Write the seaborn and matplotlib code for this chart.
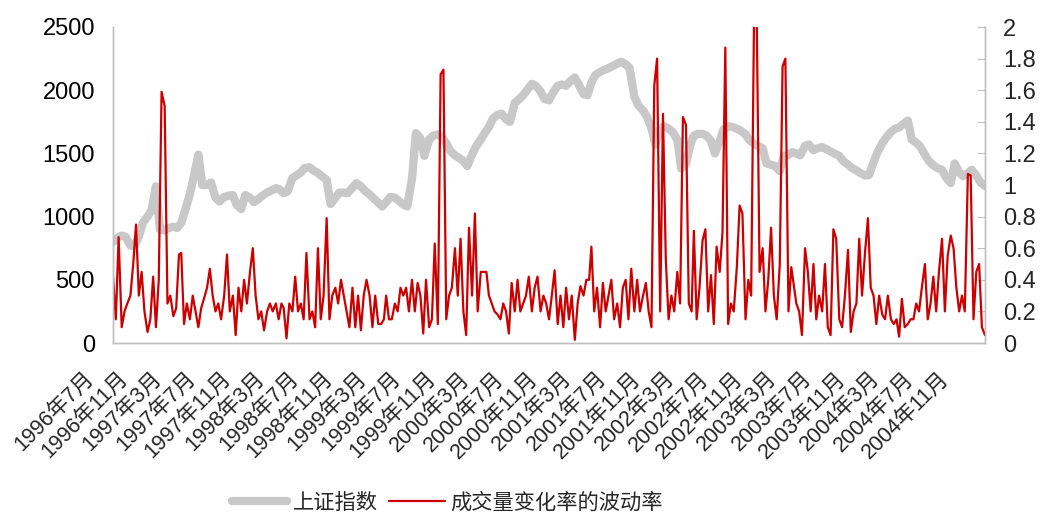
import matplotlib
matplotlib.use("Agg")
import matplotlib.pyplot as plt
import matplotlib.transforms as mtransforms
from matplotlib.ticker import FuncFormatter
import seaborn as sns
import pandas as pd

# ---------------- data ----------------
# 上证指数 (semi-monthly readings, 1996-07 .. 2005-01)
index_dates = pd.date_range("1996-07-01", periods=205, freq="SMS")
index_values = [
    800, 830, 850, 840, 770, 770, 840, 950, 1000, 1050, 1240, 900, 890, 910, 920, 910,
    950, 1050, 1180, 1320, 1490, 1250, 1250, 1270, 1150, 1120, 1155, 1165, 1170, 1090,
    1060, 1170, 1150, 1115, 1140, 1165, 1190, 1205, 1225, 1215, 1185, 1200, 1305, 1325,
    1350, 1385, 1390, 1365, 1345, 1320, 1290, 1100, 1150, 1190, 1190, 1185, 1230, 1265,
    1240, 1205, 1175, 1145, 1110, 1080, 1115, 1155, 1150, 1125, 1095, 1080, 1300, 1660,
    1620, 1480, 1610, 1640, 1650, 1630, 1580, 1520, 1485, 1465, 1440, 1400, 1490, 1555,
    1610, 1660, 1710, 1775, 1805, 1815, 1770, 1750, 1900, 1925, 1960, 2000, 2050, 2035,
    1990, 1930, 1920, 1980, 2035, 2045, 2035, 2070, 2100, 2045, 1970, 1960, 2060, 2120,
    2145, 2160, 2175, 2190, 2210, 2225, 2205, 2175, 1950, 1880, 1840, 1790, 1700, 1570,
    1690, 1715, 1695, 1670, 1610, 1380, 1420, 1560, 1640, 1655, 1655, 1640, 1600, 1500,
    1600, 1690, 1715, 1710, 1695, 1680, 1650, 1605, 1580, 1560, 1540, 1420, 1410, 1400,
    1360, 1480, 1490, 1510, 1500, 1485, 1560, 1570, 1525, 1540, 1550, 1535, 1515, 1500,
    1480, 1440, 1410, 1385, 1365, 1345, 1325, 1330, 1430, 1510, 1580, 1625, 1670, 1695,
    1705, 1730, 1760, 1610, 1585, 1555, 1490, 1440, 1405, 1385, 1370, 1310, 1265, 1420,
    1350, 1320, 1345, 1370, 1325, 1275, 1240,
]

# 成交量变化率的波动率 (readings on the 1st, 11th and 21st of each month)
vol_dates = [pd.Timestamp(1996 + (6 + k // 3) // 12, (6 + k // 3) % 12 + 1, 1 + 10 * (k % 3))
             for k in range(307)]
vol_values = [
    .42, .15, .67, .10, .20, .25, .30, .50, .75, .30, .45, .20, .07, .15, .42, .10,
    .40, 1.59, 1.50, .25, .30, .17, .22, .56, .57, .12, .25, .15, .30, .20, .10, .22,
    .28, .35, .47, .30, .20, .25, .15, .30, .56, .20, .30, .05, .35, .20, .40, .25,
    .45, .60, .30, .15, .20, .08, .20, .25, .20, .25, .15, .25, .22, .03, .25, .20,
    .42, .20, .25, .15, .57, .15, .20, .10, .60, .15, .30, .79, .15, .30, .35, .25,
    .40, .30, .20, .10, .35, .10, .30, .08, .30, .40, .30, .10, .30, .12, .12, .15,
    .30, .15, .15, .25, .20, .35, .30, .35, .20, .40, .20, .38, .30, .06, .40, .10,
    .15, .63, .12, 1.70, 1.73, .15, .30, .35, .60, .30, .66, .20, .05, .73, .30, .82,
    .20, .45, .45, .45, .30, .25, .20, .18, .15, .25, .20, .06, .38, .20, .40, .20,
    .25, .30, .42, .20, .35, .42, .20, .30, .25, .15, .30, .46, .12, .30, .10, .35,
    .15, .30, .02, .25, .36, .30, .40, .40, .61, .20, .35, .10, .38, .20, .30, .40,
    .15, .25, .10, .35, .40, .15, .47, .20, .40, .20, .30, .38, .20, .10, 1.63, 1.80,
    .20, 1.45, .53, .15, .30, .20, .45, .25, 1.43, 1.38, .25, .20, .71, .15, .35, .65,
    .72, .20, .43, .12, .61, .45, .70, 1.87, .12, .25, .20, .48, .87, .82, .15, .40,
    .30, 2.00, 2.05, .45, .60, .20, .40, .73, .30, .15, .50, 1.75, 1.80, .20, .48, .35,
    .25, .20, .05, .60, .45, .20, .50, .15, .30, .20, .50, .10, .05, .72, .66, .15,
    .10, .30, .59, .07, .20, .25, .66, .30, .58, .79, .35, .30, .12, .30, .18, .15,
    .30, .15, .12, .15, .04, .28, .10, .12, .15, .15, .25, .20, .35, .50, .15, .25,
    .42, .20, .45, .66, .20, .55, .68, .60, .35, .20, .30, .20, 1.07, 1.06, .15, .45,
    .50, .10, .05,
]

tick_dates = pd.date_range("1996-07-01", "2004-11-01", freq="4MS")
tick_labels = [f"{d.year}年{d.month}月" for d in tick_dates]
left_ticks = [0, 500, 1000, 1500, 2000, 2500]
right_ticks = [0, 0.2, 0.4, 0.6, 0.8, 1, 1.2, 1.4, 1.6, 1.8, 2]
series_names = ["上证指数", "成交量变化率的波动率"]

# ---------------- style ----------------
sns.set_style("white")
plt.rcParams["font.family"] = ["Liberation Sans", "Noto Sans CJK SC", "DejaVu Sans"]

GRAY = "#C8C8C8"
RED = "#CC0000"
SPINE = "#BFBFBF"

fig = plt.figure(figsize=(10.5, 5.22), dpi=100)
ax = fig.add_axes([113 / 1050, 1 - 343 / 522, (985 - 113) / 1050, (343 - 27) / 522])
ax2 = ax.twinx()

df_idx = pd.DataFrame({"date": index_dates, "value": index_values})
df_vol = pd.DataFrame({"date": vol_dates, "value": vol_values})

sns.lineplot(data=df_idx, x="date", y="value", ax=ax, color=GRAY, linewidth=6,
             solid_joinstyle="round", solid_capstyle="round", label=series_names[0], legend=False)
sns.lineplot(data=df_vol, x="date", y="value", ax=ax2, color=RED, linewidth=1.6,
             label=series_names[1], legend=False)

ax.set_xlim(pd.Timestamp("1996-07-01"), pd.Timestamp("2005-01-01"))
ax.set_ylim(0, 2500)
ax2.set_ylim(0, 2)
ax.set_xlabel("")
ax.set_ylabel("")
ax2.set_ylabel("")

ax.set_yticks(left_ticks)
ax.set_yticklabels([str(v) for v in left_ticks])
ax2.set_yticks(right_ticks)
ax2.yaxis.set_major_formatter(FuncFormatter(lambda v, p: f"{v:g}"))

ax.set_xticks(tick_dates)
ax.set_xticklabels(tick_labels, rotation=45, ha="right", va="top", rotation_mode="anchor",
                   fontsize=15.5)

for a in (ax, ax2):
    a.spines["top"].set_visible(False)
    for s in ("left", "right", "bottom"):
        a.spines[s].set_color(SPINE)
        a.spines[s].set_linewidth(1.0)
    a.grid(False)

ax.tick_params(axis="y", length=0, labelsize=17, pad=13, colors="black")
ax.tick_params(axis="x", direction="out", length=5, color=SPINE, pad=2)
ax2.tick_params(axis="y", direction="in", length=6, color=SPINE, labelsize=17, pad=13)

offset = mtransforms.ScaledTranslation(-30 / 100, -15 / 100, fig.dpi_scale_trans)
for tick in ax.xaxis.get_major_ticks():
    tick.label1.set_transform(tick.label1.get_transform() + offset)

h1, l1 = ax.get_legend_handles_labels()
h2, l2 = ax2.get_legend_handles_labels()
fig.legend(h1 + h2, l1 + l2, loc="center", bbox_to_anchor=(0.426, 0.037), ncol=2,
           frameon=False, fontsize=15.3, handlelength=2.6, columnspacing=0.55, handletextpad=0.25)

fig.savefig("out.png", dpi=100)
